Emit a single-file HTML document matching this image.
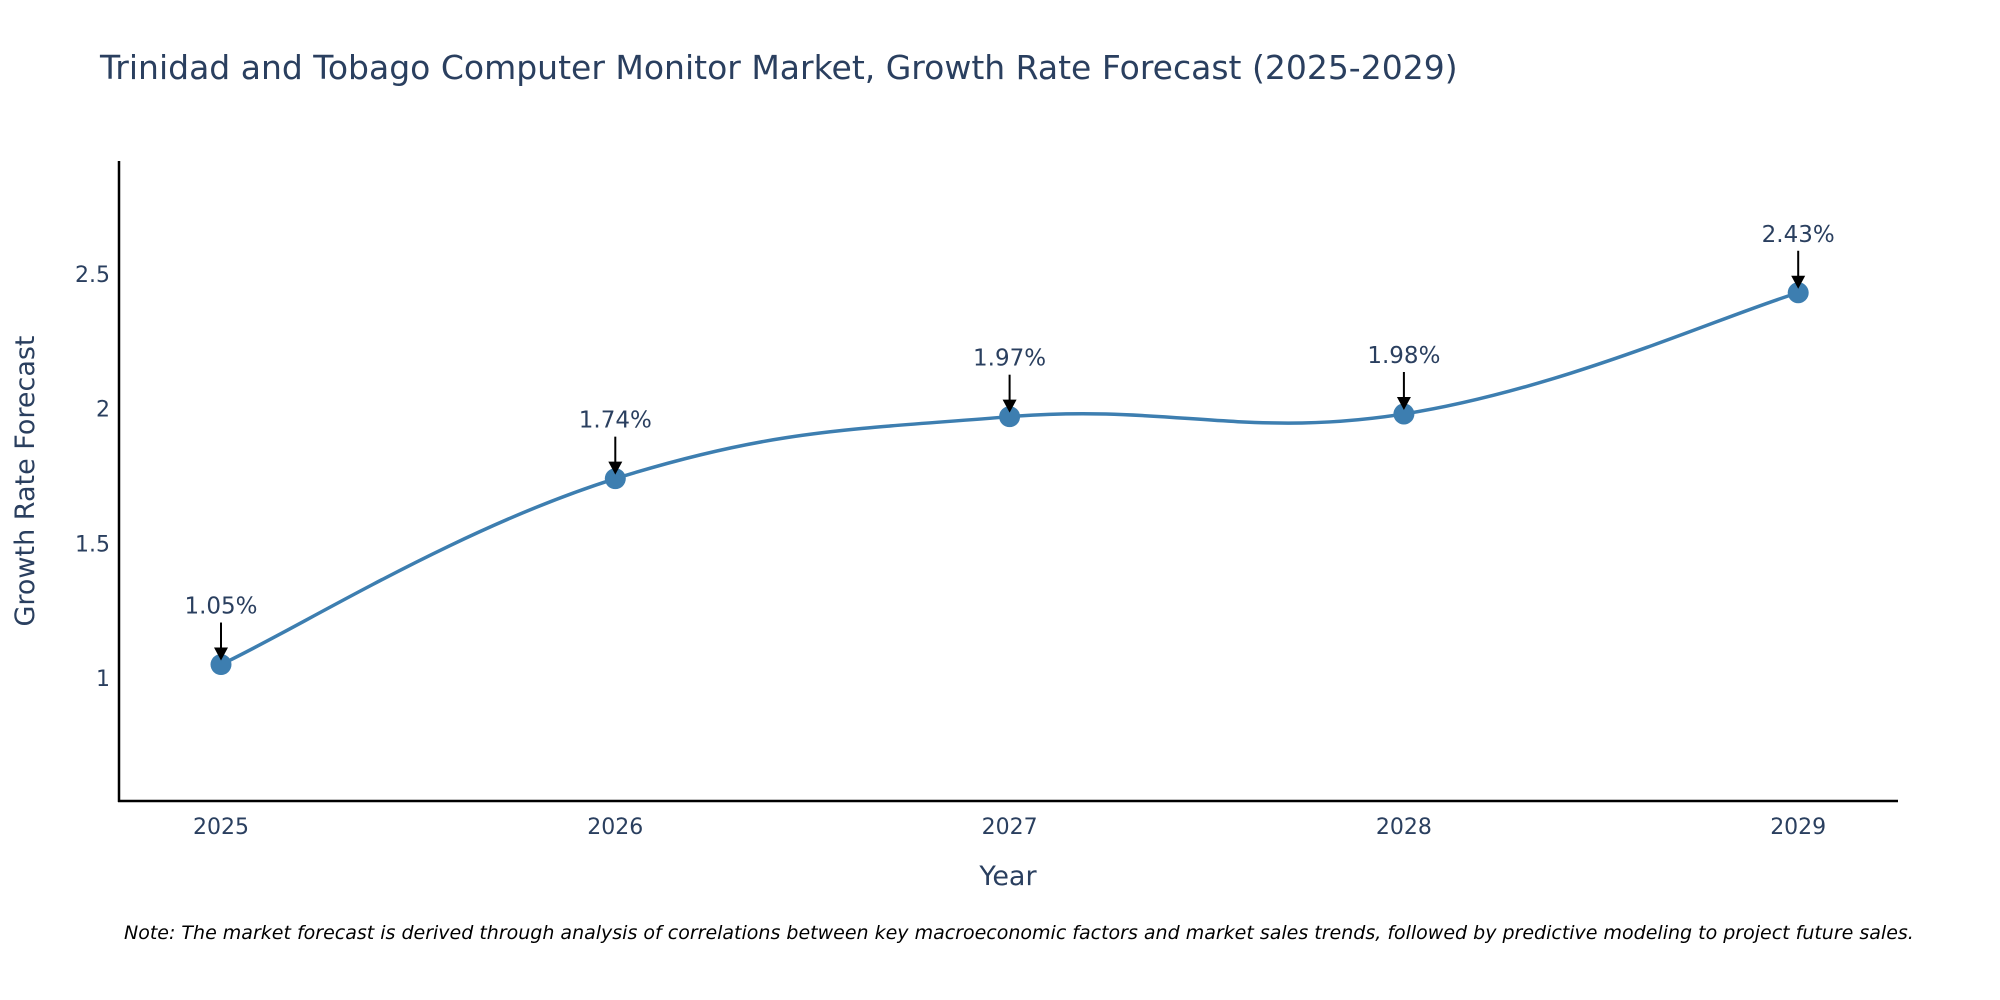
<!DOCTYPE html>
<html><head><meta charset="utf-8"><style>
body{margin:0;background:#fff;}
svg{display:block;font-family:"DejaVu Sans","Liberation Sans",sans-serif;}
</style></head><body>
<svg id="chart" width="2000" height="1000">
<text x="100" y="79" font-size="33" fill="#2a3f5f">Trinidad and Tobago Computer Monitor Market, Growth Rate Forecast (2025-2029)</text>
<g id="yticks"></g>
<g id="xticks"></g>
<line x1="119" y1="161" x2="119" y2="802" stroke="#000" stroke-width="2.5"/>
<line x1="118" y1="801" x2="1898" y2="801" stroke="#000" stroke-width="2.5"/>
<g id="series"></g>
<g id="annots"></g>
<text x="1008" y="885" font-size="27" fill="#2a3f5f" text-anchor="middle">Year</text>
<text x="34" y="481" font-size="27" fill="#2a3f5f" text-anchor="middle" transform="rotate(-90 34 481)">Growth Rate Forecast</text>
<text x="124" y="939" font-size="19" font-style="italic" fill="#000">Note: The market forecast is derived through analysis of correlations between key macroeconomic factors and market sales trends, followed by predictive modeling to project future sales.</text>
</svg>
<script>
const years = [2025, 2026, 2027, 2028, 2029];
const growth = [1.05, 1.74, 1.97, 1.98, 2.43];
const yTickVals = [1, 1.5, 2, 2.5];
const yTickLabels = ["1", "1.5", "2", "2.5"];

const NS = "http://www.w3.org/2000/svg";
const xs = v => 221 + (v - 2025) * 394.3;
const ys = v => 678 - (v - 1) * 269.4;
function mk(tag, attrs, parent) {
  const e = document.createElementNS(NS, tag);
  for (const k in attrs) e.setAttribute(k, attrs[k]);
  parent.appendChild(e);
  return e;
}
const yt = document.getElementById('yticks');
yTickVals.forEach((v, i) => {
  const t = mk('text', {x: 110, y: ys(v) + 8, 'font-size': 22, fill: '#2a3f5f', 'text-anchor': 'end'}, yt);
  
  
  t.textContent = yTickLabels[i];
});
const xt = document.getElementById('xticks');
years.forEach(y => {
  const t = mk('text', {x: xs(y), y: 834, 'font-size': 22, fill: '#2a3f5f', 'text-anchor': 'middle'}, xt);
  
  
  t.textContent = y;
});
const pts = years.map((y, i) => [xs(y), ys(growth[i])]);
let d = `M${pts[0][0]},${pts[0][1]}`;
const s = 0.4;
for (let i = 0; i < pts.length - 1; i++) {
  const p0 = pts[Math.max(0, i - 1)], p1 = pts[i], p2 = pts[i + 1], p3 = pts[Math.min(pts.length - 1, i + 2)];
  const c1 = [p1[0] + (p2[0] - p0[0]) * s / 2, p1[1] + (p2[1] - p0[1]) * s / 2];
  const c2 = [p2[0] - (p3[0] - p1[0]) * s / 2, p2[1] - (p3[1] - p1[1]) * s / 2];
  d += ` C${c1[0]},${c1[1]} ${c2[0]},${c2[1]} ${p2[0]},${p2[1]}`;
}
const ser = document.getElementById('series');
const line = mk('path', {d: d, fill: 'none', stroke: '#3d7eb0', 'stroke-width': 3.5}, ser);


const an = document.getElementById('annots');
pts.forEach((p, i) => {
  const c = mk('circle', {cx: p[0], cy: p[1], r: 10.5, fill: '#3d7eb0'}, ser);
  
  
  const l = mk('line', {x1: p[0], y1: p[1] - 42, x2: p[0], y2: p[1] - 14, stroke: '#000', 'stroke-width': 2}, an);
  
  
  const h = mk('path', {d: `M${p[0] - 7},${p[1] - 17} L${p[0] + 7},${p[1] - 17} L${p[0]},${p[1] - 4} Z`, fill: '#000'}, an);
  
  
  const t = mk('text', {x: p[0], y: p[1] - 51, 'font-size': 23, fill: '#2a3f5f', 'text-anchor': 'middle'}, an);
  
  
  t.textContent = growth[i].toFixed(2) + '%';
});
</script>
</body></html>
